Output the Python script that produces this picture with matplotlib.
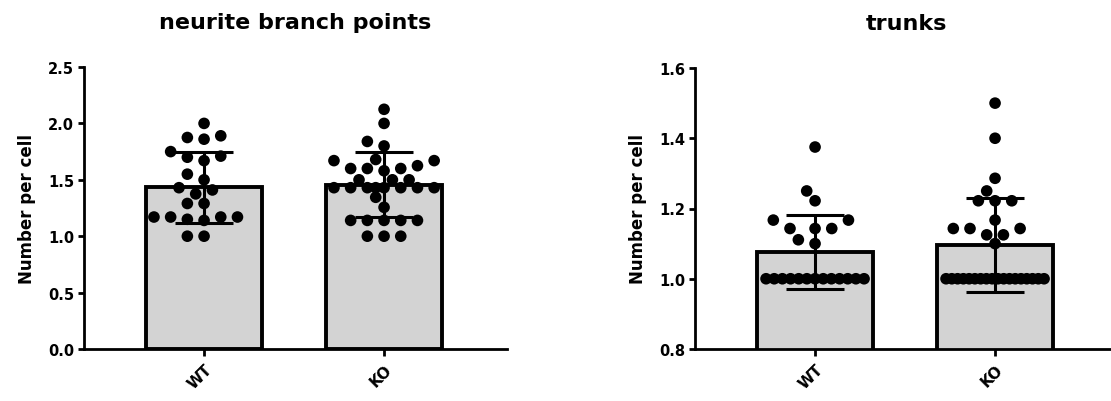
import numpy as np
import matplotlib
matplotlib.use('Agg')
import matplotlib.pyplot as plt

# values
groups = ['WT', 'KO']

branch_wt = [2.0, 1.89, 1.875, 1.86, 1.75, 1.71, 1.70, 1.67, 1.55, 1.5, 1.43, 1.41,
             1.375, 1.29, 1.29, 1.17, 1.17, 1.17, 1.17, 1.15, 1.14, 1.0, 1.0]
branch_ko = [2.125, 2.0, 1.84, 1.8, 1.68, 1.67, 1.67, 1.625, 1.6, 1.6, 1.6, 1.58,
             1.5, 1.5, 1.5, 1.43, 1.43, 1.43, 1.43, 1.43, 1.43, 1.43, 1.43,
             1.345, 1.256, 1.14, 1.14, 1.14, 1.14, 1.14, 1.0, 1.0, 1.0]
branch_mean = [1.435, 1.456]
branch_sd = [0.315, 0.287]

trunks_wt = [1.375, 1.25, 1.222, 1.167, 1.167, 1.143, 1.143, 1.143, 1.111, 1.1] + [1.0] * 13
trunks_ko = [1.5, 1.4, 1.286, 1.25, 1.222, 1.222, 1.222, 1.167, 1.143, 1.143, 1.143,
             1.125, 1.125, 1.1] + [1.0] * 18
trunks_mean = [1.076, 1.096]
trunks_sd = [0.106, 0.134]

plt.rcParams['font.family'] = ['DejaVu Sans']
plt.rcParams['font.weight'] = 'bold'


def swarm_offsets(vals, ypx, step=8.35, dmin=12.0, half=50.0):
    # simple beeswarm in pixel space, kept inside the bar
    vals = np.asarray(vals, float)
    y = vals * ypx
    off = np.zeros(len(vals))
    done = np.zeros(len(vals), bool)
    # tied rows too wide for the bar get spread evenly
    for v in np.unique(vals):
        idx = np.where(vals == v)[0]
        if len(idx) * dmin > 2 * half:
            off[idx] = np.linspace(-half + 1, half - 1, len(idx))
            done[idx] = True
    cand = np.arange(-6, 7) * step
    cand = cand[np.argsort(np.abs(cand), kind='stable')]
    for i in np.argsort(vals, kind='stable'):
        if done[i]:
            continue
        px = off[done]
        py = y[done]
        best, best_d = 0.0, -1.0
        for c in cand:
            d = np.hypot(px - c, py - y[i]).min() if len(px) else 1e9
            if d >= dmin:
                best = c
                break
            if d > best_d + 0.5:
                best, best_d = c, d
        off[i] = best
        done[i] = True
    return off


def panel(ax, title, data, means, sds, ylim, yticks):
    ax.set_xlim(-0.667, 1.683)
    ax.set_ylim(*ylim)
    x = np.arange(len(groups))
    ax.bar(x, means, width=0.645, color='#d3d3d3', edgecolor='black', linewidth=2.8, zorder=1)
    xpx = ax.bbox.width / (1.683 + 0.667)
    ypx = ax.bbox.height / (ylim[1] - ylim[0])
    for i, vals in enumerate(data):
        off = swarm_offsets(vals, ypx) / xpx
        ax.scatter(x[i] + off, vals, s=70, color='black', edgecolors='none', zorder=3)
    ax.errorbar(x, means, yerr=sds, fmt='none', ecolor='black', elinewidth=2.2,
                capsize=21, capthick=2.2, zorder=4)
    ax.spines['top'].set_visible(False)
    ax.spines['right'].set_visible(False)
    for s in ('left', 'bottom'):
        ax.spines[s].set_linewidth(2.0)
    ax.set_yticks(yticks)
    ax.set_yticklabels([f'{t:.1f}' for t in yticks])
    ax.set_xticks(x)
    ax.set_xticklabels(groups, rotation=45, ha='right', rotation_mode='anchor')
    ax.tick_params(axis='y', length=4.5, width=2.0, pad=2.5, labelsize=10.5)
    ax.tick_params(axis='x', length=5, width=2.0, pad=4, labelsize=11)
    ax.set_ylabel('Number per cell', fontsize=12, fontweight='bold', labelpad=9)
    ax.set_title(title, fontsize=16, fontweight='bold', pad=28)


fig = plt.figure(figsize=(11.11, 4.02), dpi=100)
ax1 = fig.add_axes([84 / 1111, 52 / 402, 423 / 1111, 282 / 402])
ax2 = fig.add_axes([695 / 1111, 52 / 402, 423 / 1111, 281 / 402])

panel(ax1, 'neurite branch points', [branch_wt, branch_ko], branch_mean, branch_sd,
      (0.0, 2.5), [0.0, 0.5, 1.0, 1.5, 2.0, 2.5])
panel(ax2, 'trunks', [trunks_wt, trunks_ko], trunks_mean, trunks_sd,
      (0.8, 1.6), [0.8, 1.0, 1.2, 1.4, 1.6])

fig.savefig('out.png', dpi=100)
